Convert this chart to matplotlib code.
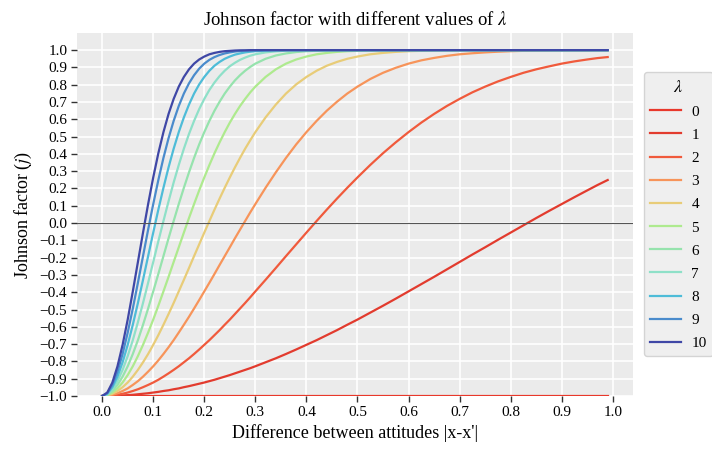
import matplotlib
matplotlib.use('Agg')
import matplotlib.pyplot as plt

plt.rcParams['font.family'] = ['Liberation Serif', 'DejaVu Serif']
plt.rcParams['mathtext.fontset'] = 'stix'

# x grid (difference between attitudes)
x = [0.00, 0.01, 0.02, 0.03, 0.04, 0.05, 0.06, 0.07, 0.08, 0.09,
     0.10, 0.11, 0.12, 0.13, 0.14, 0.15, 0.16, 0.17, 0.18, 0.19,
     0.20, 0.21, 0.22, 0.23, 0.24, 0.25, 0.26, 0.27, 0.28, 0.29, 0.30,
     0.32, 0.34, 0.36, 0.38, 0.40, 0.42, 0.44, 0.46, 0.48, 0.50,
     0.525, 0.55, 0.575, 0.60, 0.625, 0.65, 0.675, 0.70, 0.725, 0.75,
     0.775, 0.80, 0.825, 0.85, 0.875, 0.90, 0.925, 0.95, 0.97, 0.99]

lambdas = [0, 1, 2, 3, 4, 5, 6, 7, 8, 9, 10]

j0 = [-1.0] * len(x)

j1 = [-1.000, -1.000, -0.999, -0.998, -0.997, -0.995, -0.993, -0.990, -0.987, -0.984,
      -0.980, -0.976, -0.971, -0.967, -0.961, -0.956, -0.949, -0.943, -0.936, -0.929,
      -0.922, -0.914, -0.906, -0.897, -0.888, -0.879, -0.869, -0.859, -0.849, -0.839, -0.828,
      -0.805, -0.782, -0.757, -0.731, -0.704, -0.677, -0.648, -0.619, -0.588, -0.558,
      -0.518, -0.478, -0.437, -0.395, -0.353, -0.311, -0.268, -0.225, -0.182, -0.140,
      -0.097, -0.055, -0.013, 0.029, 0.070, 0.110, 0.150, 0.189, 0.220, 0.249]

j2 = [-1.000, -0.999, -0.997, -0.993, -0.987, -0.980, -0.971, -0.961, -0.949, -0.936,
      -0.922, -0.906, -0.888, -0.869, -0.849, -0.828, -0.805, -0.782, -0.757, -0.731,
      -0.704, -0.677, -0.648, -0.619, -0.588, -0.558, -0.526, -0.494, -0.462, -0.429, -0.395,
      -0.328, -0.260, -0.191, -0.123, -0.055, 0.012, 0.078, 0.142, 0.204, 0.264,
      0.336, 0.404, 0.467, 0.526, 0.581, 0.631, 0.677, 0.718, 0.756, 0.789,
      0.819, 0.845, 0.869, 0.889, 0.906, 0.922, 0.935, 0.946, 0.954, 0.960]

j3 = [-1.000, -0.998, -0.993, -0.984, -0.971, -0.956, -0.936, -0.914, -0.888, -0.859,
      -0.828, -0.794, -0.757, -0.718, -0.677, -0.633, -0.588, -0.542, -0.494, -0.445,
      -0.395, -0.345, -0.294, -0.242, -0.191, -0.140, -0.088, -0.038, 0.012, 0.062, 0.110,
      0.204, 0.293, 0.377, 0.455, 0.526, 0.591, 0.650, 0.702, 0.749, 0.789,
      0.833, 0.869, 0.898, 0.922, 0.941, 0.955, 0.967, 0.976, 0.982, 0.987,
      0.991, 0.994, 0.996, 0.997, 0.998, 0.999, 0.999, 0.999, 1.000, 1.000]

j4 = [-1.000, -0.997, -0.987, -0.971, -0.949, -0.922, -0.888, -0.849, -0.805, -0.757,
      -0.704, -0.648, -0.588, -0.526, -0.462, -0.395, -0.328, -0.260, -0.191, -0.123,
      -0.055, 0.012, 0.078, 0.142, 0.204, 0.264, 0.322, 0.377, 0.430, 0.479, 0.526,
      0.611, 0.685, 0.749, 0.802, 0.845, 0.881, 0.910, 0.932, 0.950, 0.963,
      0.976, 0.984, 0.990, 0.994, 0.996, 0.998, 0.999, 0.999, 1.000, 1.000,
      1.000, 1.000, 1.000, 1.000, 1.000, 1.000, 1.000, 1.000, 1.000, 1.000]

j5 = [-1.000, -0.995, -0.980, -0.956, -0.922, -0.879, -0.828, -0.769, -0.704, -0.633,
      -0.558, -0.478, -0.395, -0.311, -0.225, -0.140, -0.055, 0.029, 0.110, 0.189,
      0.264, 0.336, 0.404, 0.467, 0.526, 0.581, 0.631, 0.677, 0.718, 0.756, 0.789,
      0.845, 0.889, 0.922, 0.946, 0.963, 0.976, 0.984, 0.990, 0.994, 0.996,
      0.998, 0.999, 1.000, 1.000, 1.000, 1.000, 1.000, 1.000, 1.000, 1.000,
      1.000, 1.000, 1.000, 1.000, 1.000, 1.000, 1.000, 1.000, 1.000, 1.000]

j6 = [-1.000, -0.993, -0.971, -0.936, -0.888, -0.828, -0.757, -0.677, -0.588, -0.494,
      -0.395, -0.294, -0.191, -0.088, 0.012, 0.110, 0.204, 0.293, 0.377, 0.455,
      0.526, 0.591, 0.650, 0.702, 0.749, 0.789, 0.825, 0.855, 0.881, 0.903, 0.922,
      0.950, 0.969, 0.981, 0.989, 0.994, 0.997, 0.998, 0.999, 1.000, 1.000,
      1.000, 1.000, 1.000, 1.000, 1.000, 1.000, 1.000, 1.000, 1.000, 1.000,
      1.000, 1.000, 1.000, 1.000, 1.000, 1.000, 1.000, 1.000, 1.000, 1.000]

j7 = [-1.000, -0.990, -0.961, -0.914, -0.849, -0.769, -0.677, -0.573, -0.462, -0.345,
      -0.225, -0.105, 0.012, 0.126, 0.235, 0.336, 0.430, 0.515, 0.591, 0.659,
      0.718, 0.770, 0.813, 0.850, 0.881, 0.907, 0.927, 0.944, 0.957, 0.968, 0.976,
      0.987, 0.993, 0.997, 0.998, 0.999, 1.000, 1.000, 1.000, 1.000, 1.000,
      1.000, 1.000, 1.000, 1.000, 1.000, 1.000, 1.000, 1.000, 1.000, 1.000,
      1.000, 1.000, 1.000, 1.000, 1.000, 1.000, 1.000, 1.000, 1.000, 1.000]

j8 = [-1.000, -0.987, -0.949, -0.888, -0.805, -0.704, -0.588, -0.462, -0.328, -0.191,
      -0.055, 0.078, 0.204, 0.322, 0.430, 0.526, 0.611, 0.685, 0.749, 0.802,
      0.845, 0.881, 0.910, 0.932, 0.950, 0.963, 0.974, 0.981, 0.987, 0.991, 0.994,
      0.997, 0.999, 1.000, 1.000, 1.000, 1.000, 1.000, 1.000, 1.000, 1.000,
      1.000, 1.000, 1.000, 1.000, 1.000, 1.000, 1.000, 1.000, 1.000, 1.000,
      1.000, 1.000, 1.000, 1.000, 1.000, 1.000, 1.000, 1.000, 1.000, 1.000]

j9 = [-1.000, -0.984, -0.936, -0.859, -0.757, -0.633, -0.494, -0.345, -0.191, -0.038,
      0.110, 0.249, 0.377, 0.491, 0.591, 0.677, 0.749, 0.808, 0.855, 0.893,
      0.922, 0.944, 0.960, 0.972, 0.981, 0.987, 0.992, 0.995, 0.997, 0.998, 0.999,
      1.000, 1.000, 1.000, 1.000, 1.000, 1.000, 1.000, 1.000, 1.000, 1.000,
      1.000, 1.000, 1.000, 1.000, 1.000, 1.000, 1.000, 1.000, 1.000, 1.000,
      1.000, 1.000, 1.000, 1.000, 1.000, 1.000, 1.000, 1.000, 1.000, 1.000]

j10 = [-1.000, -0.980, -0.922, -0.828, -0.704, -0.558, -0.395, -0.225, -0.055, 0.110,
       0.264, 0.404, 0.526, 0.631, 0.718, 0.789, 0.845, 0.889, 0.922, 0.946,
       0.963, 0.976, 0.984, 0.990, 0.994, 0.996, 0.998, 0.999, 0.999, 1.000, 1.000,
       1.000, 1.000, 1.000, 1.000, 1.000, 1.000, 1.000, 1.000, 1.000, 1.000,
       1.000, 1.000, 1.000, 1.000, 1.000, 1.000, 1.000, 1.000, 1.000, 1.000,
       1.000, 1.000, 1.000, 1.000, 1.000, 1.000, 1.000, 1.000, 1.000, 1.000]

series = [j0, j1, j2, j3, j4, j5, j6, j7, j8, j9, j10]

colors = ['#e8382b', '#e23b2e', '#f05a3c', '#f7945a', '#e8cc78', '#aeea8e',
          '#96e3ad', '#8ee0c8', '#4ebcd8', '#4a8bcc', '#3f47a6']

fig = plt.figure(figsize=(7.12, 4.5), dpi=100)
ax = fig.add_axes([0.108, 0.12, 0.781, 0.807])
ax.set_facecolor('#EBEBEB')
for s in ax.spines.values():
    s.set_visible(False)
ax.grid(True, color='white', linewidth=1.2)
ax.set_axisbelow(True)

for lam, y, c in zip(lambdas, series, colors):
    ax.plot(x, y, color=c, linewidth=1.6, label=str(lam))

ax.axhline(0, color='#555555', linewidth=0.8)

ax.set_xticks([i / 10 for i in range(11)])
ax.set_yticks([i / 10 for i in range(-10, 11)])
ax.set_ylim(-1.0, 1.1)
ax.tick_params(axis='both', labelsize=11, length=4, width=1, color='#333333', pad=3)

ax.set_title(r'Johnson factor with different values of $\lambda$', fontsize=13.5)
ax.set_xlabel("Difference between attitudes |x-x'|", fontsize=13)
ax.set_ylabel(r'Johnson factor ($j$)', fontsize=13)

leg = ax.legend(title=r'$\lambda$', loc='center left', bbox_to_anchor=(1.006, 0.5),
                fontsize=11, title_fontsize=13, frameon=True, facecolor='#EBEBEB',
                edgecolor='#cccccc', handlelength=2.0, handletextpad=0.7,
                borderpad=0.4, labelspacing=0.62)

fig.savefig('out.png', dpi=100)
